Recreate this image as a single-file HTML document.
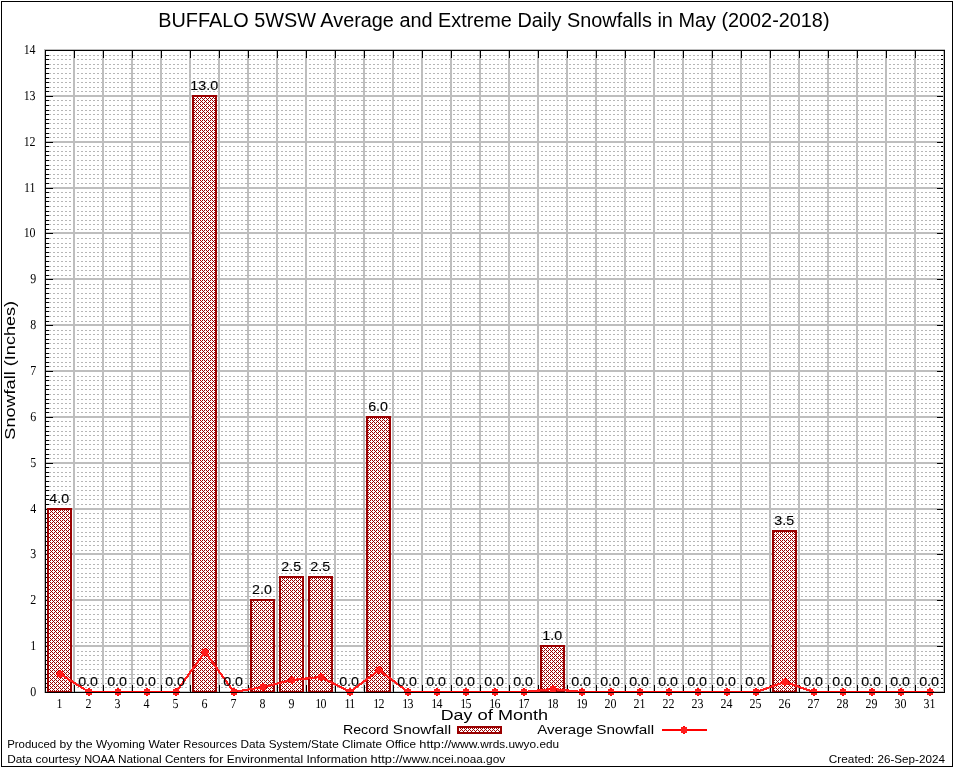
<!DOCTYPE html>
<html lang="en"><head><meta charset="utf-8"><title>BUFFALO 5WSW Average and Extreme Daily Snowfalls in May (2002-2018)</title>
<style>html,body{margin:0;padding:0;background:#fff}svg{display:block;will-change:transform}text{font-family:"Liberation Sans",sans-serif;fill:#000}.se{font-family:"Liberation Serif",serif;text-rendering:geometricPrecision}.cr{shape-rendering:crispEdges}</style></head><body>
<svg width="954" height="768" viewBox="0 0 954 768">
<defs><pattern id="xh" x="0" y="0" width="4" height="4" patternUnits="userSpaceOnUse"><rect width="4" height="4" fill="#fff"/><path fill="#9a0000" shape-rendering="crispEdges" d="M0 0h1v1h-1zM2 0h1v1h-1zM1 1h1v1h-1zM0 2h1v1h-1zM2 2h1v1h-1zM3 3h1v1h-1z"/></pattern></defs>
<rect width="954" height="768" fill="#fff"/>
<g class="cr">
<path fill="none" stroke="#000" stroke-width="1" d="M1.5 1.5H952.5V766.5H1.5Z"/>
<path stroke="#b6b6b6" stroke-width="1" stroke-dasharray="2 2" fill="none" d="M49 687.5H944M49 683.5H944M49 678.5H944M49 674.5H944M49 669.5H944M49 664.5H944M49 660.5H944M49 655.5H944M49 651.5H944M49 642.5H944M49 637.5H944M49 632.5H944M49 628.5H944M49 623.5H944M49 619.5H944M49 614.5H944M49 609.5H944M49 605.5H944M49 596.5H944M49 591.5H944M49 587.5H944M49 582.5H944M49 577.5H944M49 573.5H944M49 568.5H944M49 564.5H944M49 559.5H944M49 550.5H944M49 545.5H944M49 541.5H944M49 536.5H944M49 532.5H944M49 527.5H944M49 522.5H944M49 518.5H944M49 513.5H944M49 504.5H944M49 499.5H944M49 495.5H944M49 490.5H944M49 486.5H944M49 481.5H944M49 476.5H944M49 472.5H944M49 467.5H944M49 458.5H944M49 454.5H944M49 449.5H944M49 444.5H944M49 440.5H944M49 435.5H944M49 431.5H944M49 426.5H944M49 421.5H944M49 412.5H944M49 408.5H944M49 403.5H944M49 399.5H944M49 394.5H944M49 389.5H944M49 385.5H944M49 380.5H944M49 376.5H944M49 366.5H944M49 362.5H944M49 357.5H944M49 353.5H944M49 348.5H944M49 343.5H944M49 339.5H944M49 334.5H944M49 330.5H944M49 321.5H944M49 316.5H944M49 311.5H944M49 307.5H944M49 302.5H944M49 298.5H944M49 293.5H944M49 288.5H944M49 284.5H944M49 275.5H944M49 270.5H944M49 266.5H944M49 261.5H944M49 256.5H944M49 252.5H944M49 247.5H944M49 243.5H944M49 238.5H944M49 229.5H944M49 224.5H944M49 220.5H944M49 215.5H944M49 211.5H944M49 206.5H944M49 201.5H944M49 197.5H944M49 192.5H944M49 183.5H944M49 178.5H944M49 174.5H944M49 169.5H944M49 165.5H944M49 160.5H944M49 155.5H944M49 151.5H944M49 146.5H944M49 137.5H944M49 133.5H944M49 128.5H944M49 123.5H944M49 119.5H944M49 114.5H944M49 110.5H944M49 105.5H944M49 100.5H944M49 91.5H944M49 87.5H944M49 82.5H944M49 78.5H944M49 73.5H944M49 68.5H944M49 64.5H944M49 59.5H944M49 55.5H944"/>
<path stroke="#bebebe" stroke-width="2" fill="none" d="M44 692H945M44 646H945M44 600H945M44 554H945M44 509H945M44 463H945M44 417H945M44 371H945M44 325H945M44 279H945M44 233H945M44 188H945M44 142H945M44 96H945M44 50H945M45 49V693M74 49V693M103 49V693M132 49V693M161 49V693M190 49V693M219 49V693M248 49V693M277 49V693M306 49V693M335 49V693M364 49V693M393 49V693M422 49V693M451 49V693M480 49V693M509 49V693M538 49V693M567 49V693M596 49V693M625 49V693M654 49V693M683 49V693M712 49V693M741 49V693M770 49V693M799 49V693M828 49V693M857 49V693M886 49V693M915 49V693M944 49V693"/>
<path fill="#000" d="M74 50h1v8h-1zM74 685h1v8h-1zM103 50h1v8h-1zM103 685h1v8h-1zM132 50h1v8h-1zM132 685h1v8h-1zM161 50h1v8h-1zM161 685h1v8h-1zM190 50h1v8h-1zM190 685h1v8h-1zM219 50h1v8h-1zM219 685h1v8h-1zM248 50h1v8h-1zM248 685h1v8h-1zM277 50h1v8h-1zM277 685h1v8h-1zM306 50h1v8h-1zM306 685h1v8h-1zM335 50h1v8h-1zM335 685h1v8h-1zM364 50h1v8h-1zM364 685h1v8h-1zM393 50h1v8h-1zM393 685h1v8h-1zM422 50h1v8h-1zM422 685h1v8h-1zM451 50h1v8h-1zM451 685h1v8h-1zM480 50h1v8h-1zM480 685h1v8h-1zM509 50h1v8h-1zM509 685h1v8h-1zM538 50h1v8h-1zM538 685h1v8h-1zM567 50h1v8h-1zM567 685h1v8h-1zM596 50h1v8h-1zM596 685h1v8h-1zM625 50h1v8h-1zM625 685h1v8h-1zM654 50h1v8h-1zM654 685h1v8h-1zM683 50h1v8h-1zM683 685h1v8h-1zM712 50h1v8h-1zM712 685h1v8h-1zM741 50h1v8h-1zM741 685h1v8h-1zM770 50h1v8h-1zM770 685h1v8h-1zM799 50h1v8h-1zM799 685h1v8h-1zM828 50h1v8h-1zM828 685h1v8h-1zM857 50h1v8h-1zM857 685h1v8h-1zM886 50h1v8h-1zM886 685h1v8h-1zM915 50h1v8h-1zM915 685h1v8h-1zM45 687h4v1h-4zM941 687h4v1h-4zM45 683h4v1h-4zM941 683h4v1h-4zM45 678h4v1h-4zM941 678h4v1h-4zM45 674h4v1h-4zM941 674h4v1h-4zM45 669h4v1h-4zM941 669h4v1h-4zM45 664h4v1h-4zM941 664h4v1h-4zM45 660h4v1h-4zM941 660h4v1h-4zM45 655h4v1h-4zM941 655h4v1h-4zM45 651h4v1h-4zM941 651h4v1h-4zM45 646h8v1h-8zM937 646h8v1h-8zM45 642h4v1h-4zM941 642h4v1h-4zM45 637h4v1h-4zM941 637h4v1h-4zM45 632h4v1h-4zM941 632h4v1h-4zM45 628h4v1h-4zM941 628h4v1h-4zM45 623h4v1h-4zM941 623h4v1h-4zM45 619h4v1h-4zM941 619h4v1h-4zM45 614h4v1h-4zM941 614h4v1h-4zM45 609h4v1h-4zM941 609h4v1h-4zM45 605h4v1h-4zM941 605h4v1h-4zM45 600h8v1h-8zM937 600h8v1h-8zM45 596h4v1h-4zM941 596h4v1h-4zM45 591h4v1h-4zM941 591h4v1h-4zM45 587h4v1h-4zM941 587h4v1h-4zM45 582h4v1h-4zM941 582h4v1h-4zM45 577h4v1h-4zM941 577h4v1h-4zM45 573h4v1h-4zM941 573h4v1h-4zM45 568h4v1h-4zM941 568h4v1h-4zM45 564h4v1h-4zM941 564h4v1h-4zM45 559h4v1h-4zM941 559h4v1h-4zM45 554h8v1h-8zM937 554h8v1h-8zM45 550h4v1h-4zM941 550h4v1h-4zM45 545h4v1h-4zM941 545h4v1h-4zM45 541h4v1h-4zM941 541h4v1h-4zM45 536h4v1h-4zM941 536h4v1h-4zM45 532h4v1h-4zM941 532h4v1h-4zM45 527h4v1h-4zM941 527h4v1h-4zM45 522h4v1h-4zM941 522h4v1h-4zM45 518h4v1h-4zM941 518h4v1h-4zM45 513h4v1h-4zM941 513h4v1h-4zM45 509h8v1h-8zM937 509h8v1h-8zM45 504h4v1h-4zM941 504h4v1h-4zM45 499h4v1h-4zM941 499h4v1h-4zM45 495h4v1h-4zM941 495h4v1h-4zM45 490h4v1h-4zM941 490h4v1h-4zM45 486h4v1h-4zM941 486h4v1h-4zM45 481h4v1h-4zM941 481h4v1h-4zM45 476h4v1h-4zM941 476h4v1h-4zM45 472h4v1h-4zM941 472h4v1h-4zM45 467h4v1h-4zM941 467h4v1h-4zM45 463h8v1h-8zM937 463h8v1h-8zM45 458h4v1h-4zM941 458h4v1h-4zM45 454h4v1h-4zM941 454h4v1h-4zM45 449h4v1h-4zM941 449h4v1h-4zM45 444h4v1h-4zM941 444h4v1h-4zM45 440h4v1h-4zM941 440h4v1h-4zM45 435h4v1h-4zM941 435h4v1h-4zM45 431h4v1h-4zM941 431h4v1h-4zM45 426h4v1h-4zM941 426h4v1h-4zM45 421h4v1h-4zM941 421h4v1h-4zM45 417h8v1h-8zM937 417h8v1h-8zM45 412h4v1h-4zM941 412h4v1h-4zM45 408h4v1h-4zM941 408h4v1h-4zM45 403h4v1h-4zM941 403h4v1h-4zM45 399h4v1h-4zM941 399h4v1h-4zM45 394h4v1h-4zM941 394h4v1h-4zM45 389h4v1h-4zM941 389h4v1h-4zM45 385h4v1h-4zM941 385h4v1h-4zM45 380h4v1h-4zM941 380h4v1h-4zM45 376h4v1h-4zM941 376h4v1h-4zM45 371h8v1h-8zM937 371h8v1h-8zM45 366h4v1h-4zM941 366h4v1h-4zM45 362h4v1h-4zM941 362h4v1h-4zM45 357h4v1h-4zM941 357h4v1h-4zM45 353h4v1h-4zM941 353h4v1h-4zM45 348h4v1h-4zM941 348h4v1h-4zM45 343h4v1h-4zM941 343h4v1h-4zM45 339h4v1h-4zM941 339h4v1h-4zM45 334h4v1h-4zM941 334h4v1h-4zM45 330h4v1h-4zM941 330h4v1h-4zM45 325h8v1h-8zM937 325h8v1h-8zM45 321h4v1h-4zM941 321h4v1h-4zM45 316h4v1h-4zM941 316h4v1h-4zM45 311h4v1h-4zM941 311h4v1h-4zM45 307h4v1h-4zM941 307h4v1h-4zM45 302h4v1h-4zM941 302h4v1h-4zM45 298h4v1h-4zM941 298h4v1h-4zM45 293h4v1h-4zM941 293h4v1h-4zM45 288h4v1h-4zM941 288h4v1h-4zM45 284h4v1h-4zM941 284h4v1h-4zM45 279h8v1h-8zM937 279h8v1h-8zM45 275h4v1h-4zM941 275h4v1h-4zM45 270h4v1h-4zM941 270h4v1h-4zM45 266h4v1h-4zM941 266h4v1h-4zM45 261h4v1h-4zM941 261h4v1h-4zM45 256h4v1h-4zM941 256h4v1h-4zM45 252h4v1h-4zM941 252h4v1h-4zM45 247h4v1h-4zM941 247h4v1h-4zM45 243h4v1h-4zM941 243h4v1h-4zM45 238h4v1h-4zM941 238h4v1h-4zM45 233h8v1h-8zM937 233h8v1h-8zM45 229h4v1h-4zM941 229h4v1h-4zM45 224h4v1h-4zM941 224h4v1h-4zM45 220h4v1h-4zM941 220h4v1h-4zM45 215h4v1h-4zM941 215h4v1h-4zM45 211h4v1h-4zM941 211h4v1h-4zM45 206h4v1h-4zM941 206h4v1h-4zM45 201h4v1h-4zM941 201h4v1h-4zM45 197h4v1h-4zM941 197h4v1h-4zM45 192h4v1h-4zM941 192h4v1h-4zM45 188h8v1h-8zM937 188h8v1h-8zM45 183h4v1h-4zM941 183h4v1h-4zM45 178h4v1h-4zM941 178h4v1h-4zM45 174h4v1h-4zM941 174h4v1h-4zM45 169h4v1h-4zM941 169h4v1h-4zM45 165h4v1h-4zM941 165h4v1h-4zM45 160h4v1h-4zM941 160h4v1h-4zM45 155h4v1h-4zM941 155h4v1h-4zM45 151h4v1h-4zM941 151h4v1h-4zM45 146h4v1h-4zM941 146h4v1h-4zM45 142h8v1h-8zM937 142h8v1h-8zM45 137h4v1h-4zM941 137h4v1h-4zM45 133h4v1h-4zM941 133h4v1h-4zM45 128h4v1h-4zM941 128h4v1h-4zM45 123h4v1h-4zM941 123h4v1h-4zM45 119h4v1h-4zM941 119h4v1h-4zM45 114h4v1h-4zM941 114h4v1h-4zM45 110h4v1h-4zM941 110h4v1h-4zM45 105h4v1h-4zM941 105h4v1h-4zM45 100h4v1h-4zM941 100h4v1h-4zM45 96h8v1h-8zM937 96h8v1h-8zM45 91h4v1h-4zM941 91h4v1h-4zM45 87h4v1h-4zM941 87h4v1h-4zM45 82h4v1h-4zM941 82h4v1h-4zM45 78h4v1h-4zM941 78h4v1h-4zM45 73h4v1h-4zM941 73h4v1h-4zM45 68h4v1h-4zM941 68h4v1h-4zM45 64h4v1h-4zM941 64h4v1h-4zM45 59h4v1h-4zM941 59h4v1h-4zM45 55h4v1h-4zM941 55h4v1h-4z"/>
<path fill="#bebebe" d="M943 50h1v643h-1z"/>
<rect x="48" y="509" width="23" height="183" fill="url(#xh)" stroke="#9a0000" stroke-width="2"/>
<rect x="193" y="96" width="23" height="596" fill="url(#xh)" stroke="#9a0000" stroke-width="2"/>
<rect x="251" y="600" width="23" height="92" fill="url(#xh)" stroke="#9a0000" stroke-width="2"/>
<rect x="280" y="577" width="23" height="115" fill="url(#xh)" stroke="#9a0000" stroke-width="2"/>
<rect x="309" y="577" width="23" height="115" fill="url(#xh)" stroke="#9a0000" stroke-width="2"/>
<rect x="367" y="417" width="23" height="275" fill="url(#xh)" stroke="#9a0000" stroke-width="2"/>
<rect x="541" y="646" width="23" height="46" fill="url(#xh)" stroke="#9a0000" stroke-width="2"/>
<rect x="773" y="531" width="23" height="161" fill="url(#xh)" stroke="#9a0000" stroke-width="2"/>
<rect x="458" y="727" width="43" height="6" fill="url(#xh)" stroke="#9a0000" stroke-width="2"/>
<path fill="#ff0000" d="M89 691H118v2H89ZM118 691H147v2H118ZM147 691H176v2H147ZM408 691H437v2H408ZM437 691H466v2H437ZM466 691H495v2H466ZM495 691H524v2H495ZM582 691H611v2H582ZM611 691H640v2H611ZM640 691H669v2H640ZM669 691H698v2H669ZM698 691H727v2H698ZM727 691H756v2H727ZM814 691H843v2H814ZM843 691H872v2H843ZM872 691H901v2H872ZM901 691H930v2H901Z"/>
<path fill="#ff1c1c" d="M60 672.71L89 690.71V693.29L60 675.29ZM174.64 692H177.36L206.36 652H203.64ZM203.64 652H206.36L235.36 692H232.64ZM234 690.88L263 685.88V688.12L234 693.12ZM263 685.87L292 678.87V681.13L263 688.13ZM292 678.89L321 675.89V678.11L292 681.11ZM321 675.76L350 690.76V693.24L321 678.24ZM350 690.62L379 668.62V671.38L350 693.38ZM379 668.62L408 690.62V693.38L379 671.38ZM524 690.89L553 687.89V690.11L524 693.11ZM553 687.89L582 690.89V693.11L553 690.11ZM756 690.84L785 680.84V683.16L756 693.16ZM785 680.84L814 690.84V693.16L785 683.16Z"/>
<path stroke="#ff0000" stroke-width="2" fill="none" d="M662 730H707"/>
<path fill="#ff1c1c" d="M57 671h6v6h-6zM86 689h6v6h-6zM115 689h6v6h-6zM144 689h6v6h-6zM173 689h6v6h-6zM202 649h6v6h-6zM231 689h6v6h-6zM260 684h6v6h-6zM289 677h6v6h-6zM318 674h6v6h-6zM347 689h6v6h-6zM376 667h6v6h-6zM405 689h6v6h-6zM434 689h6v6h-6zM463 689h6v6h-6zM492 689h6v6h-6zM521 689h6v6h-6zM550 686h6v6h-6zM579 689h6v6h-6zM608 689h6v6h-6zM637 689h6v6h-6zM666 689h6v6h-6zM695 689h6v6h-6zM724 689h6v6h-6zM753 689h6v6h-6zM782 679h6v6h-6zM811 689h6v6h-6zM840 689h6v6h-6zM869 689h6v6h-6zM898 689h6v6h-6zM927 689h6v6h-6zM681 727h6v6h-6z"/>
<path fill="#ff0000" d="M59 670h2v1h-2zM59 677h2v1h-2zM56 673h1v2h-1zM63 673h1v2h-1zM88 688h2v1h-2zM88 695h2v1h-2zM85 691h1v2h-1zM92 691h1v2h-1zM117 688h2v1h-2zM117 695h2v1h-2zM114 691h1v2h-1zM121 691h1v2h-1zM146 688h2v1h-2zM146 695h2v1h-2zM143 691h1v2h-1zM150 691h1v2h-1zM175 688h2v1h-2zM175 695h2v1h-2zM172 691h1v2h-1zM179 691h1v2h-1zM204 648h2v1h-2zM204 655h2v1h-2zM201 651h1v2h-1zM208 651h1v2h-1zM233 688h2v1h-2zM233 695h2v1h-2zM230 691h1v2h-1zM237 691h1v2h-1zM262 683h2v1h-2zM262 690h2v1h-2zM259 686h1v2h-1zM266 686h1v2h-1zM291 676h2v1h-2zM291 683h2v1h-2zM288 679h1v2h-1zM295 679h1v2h-1zM320 673h2v1h-2zM320 680h2v1h-2zM317 676h1v2h-1zM324 676h1v2h-1zM349 688h2v1h-2zM349 695h2v1h-2zM346 691h1v2h-1zM353 691h1v2h-1zM378 666h2v1h-2zM378 673h2v1h-2zM375 669h1v2h-1zM382 669h1v2h-1zM407 688h2v1h-2zM407 695h2v1h-2zM404 691h1v2h-1zM411 691h1v2h-1zM436 688h2v1h-2zM436 695h2v1h-2zM433 691h1v2h-1zM440 691h1v2h-1zM465 688h2v1h-2zM465 695h2v1h-2zM462 691h1v2h-1zM469 691h1v2h-1zM494 688h2v1h-2zM494 695h2v1h-2zM491 691h1v2h-1zM498 691h1v2h-1zM523 688h2v1h-2zM523 695h2v1h-2zM520 691h1v2h-1zM527 691h1v2h-1zM552 685h2v1h-2zM552 692h2v1h-2zM549 688h1v2h-1zM556 688h1v2h-1zM581 688h2v1h-2zM581 695h2v1h-2zM578 691h1v2h-1zM585 691h1v2h-1zM610 688h2v1h-2zM610 695h2v1h-2zM607 691h1v2h-1zM614 691h1v2h-1zM639 688h2v1h-2zM639 695h2v1h-2zM636 691h1v2h-1zM643 691h1v2h-1zM668 688h2v1h-2zM668 695h2v1h-2zM665 691h1v2h-1zM672 691h1v2h-1zM697 688h2v1h-2zM697 695h2v1h-2zM694 691h1v2h-1zM701 691h1v2h-1zM726 688h2v1h-2zM726 695h2v1h-2zM723 691h1v2h-1zM730 691h1v2h-1zM755 688h2v1h-2zM755 695h2v1h-2zM752 691h1v2h-1zM759 691h1v2h-1zM784 678h2v1h-2zM784 685h2v1h-2zM781 681h1v2h-1zM788 681h1v2h-1zM813 688h2v1h-2zM813 695h2v1h-2zM810 691h1v2h-1zM817 691h1v2h-1zM842 688h2v1h-2zM842 695h2v1h-2zM839 691h1v2h-1zM846 691h1v2h-1zM871 688h2v1h-2zM871 695h2v1h-2zM868 691h1v2h-1zM875 691h1v2h-1zM900 688h2v1h-2zM900 695h2v1h-2zM897 691h1v2h-1zM904 691h1v2h-1zM929 688h2v1h-2zM929 695h2v1h-2zM926 691h1v2h-1zM933 691h1v2h-1zM683 726h2v1h-2zM683 733h2v1h-2zM680 729h1v2h-1zM687 729h1v2h-1z"/>
</g>
<g><text x="49.29" y="503" font-size="12.6" textLength="19.85" lengthAdjust="spacingAndGlyphs" stroke="#000" stroke-width="0.1">4.0</text>
<text x="78.18" y="686" font-size="12.6" textLength="19.85" lengthAdjust="spacingAndGlyphs" stroke="#000" stroke-width="0.1">0.0</text>
<text x="107.18" y="686" font-size="12.6" textLength="19.85" lengthAdjust="spacingAndGlyphs" stroke="#000" stroke-width="0.1">0.0</text>
<text x="136.18" y="686" font-size="12.6" textLength="19.85" lengthAdjust="spacingAndGlyphs" stroke="#000" stroke-width="0.1">0.0</text>
<text x="165.18" y="686" font-size="12.6" textLength="19.85" lengthAdjust="spacingAndGlyphs" stroke="#000" stroke-width="0.1">0.0</text>
<text x="190.34" y="90" font-size="12.6" textLength="27.79" lengthAdjust="spacingAndGlyphs" stroke="#000" stroke-width="0.1">13.0</text>
<text x="223.18" y="686" font-size="12.6" textLength="19.85" lengthAdjust="spacingAndGlyphs" stroke="#000" stroke-width="0.1">0.0</text>
<text x="252.13" y="594" font-size="12.6" textLength="19.85" lengthAdjust="spacingAndGlyphs" stroke="#000" stroke-width="0.1">2.0</text>
<text x="281.26" y="571" font-size="12.6" textLength="19.85" lengthAdjust="spacingAndGlyphs" stroke="#000" stroke-width="0.1">2.5</text>
<text x="310.26" y="571" font-size="12.6" textLength="19.85" lengthAdjust="spacingAndGlyphs" stroke="#000" stroke-width="0.1">2.5</text>
<text x="339.18" y="686" font-size="12.6" textLength="19.85" lengthAdjust="spacingAndGlyphs" stroke="#000" stroke-width="0.1">0.0</text>
<text x="368.16" y="411" font-size="12.6" textLength="19.85" lengthAdjust="spacingAndGlyphs" stroke="#000" stroke-width="0.1">6.0</text>
<text x="397.18" y="686" font-size="12.6" textLength="19.85" lengthAdjust="spacingAndGlyphs" stroke="#000" stroke-width="0.1">0.0</text>
<text x="426.18" y="686" font-size="12.6" textLength="19.85" lengthAdjust="spacingAndGlyphs" stroke="#000" stroke-width="0.1">0.0</text>
<text x="455.18" y="686" font-size="12.6" textLength="19.85" lengthAdjust="spacingAndGlyphs" stroke="#000" stroke-width="0.1">0.0</text>
<text x="484.18" y="686" font-size="12.6" textLength="19.85" lengthAdjust="spacingAndGlyphs" stroke="#000" stroke-width="0.1">0.0</text>
<text x="513.18" y="686" font-size="12.6" textLength="19.85" lengthAdjust="spacingAndGlyphs" stroke="#000" stroke-width="0.1">0.0</text>
<text x="542.31" y="640" font-size="12.6" textLength="19.85" lengthAdjust="spacingAndGlyphs" stroke="#000" stroke-width="0.1">1.0</text>
<text x="571.18" y="686" font-size="12.6" textLength="19.85" lengthAdjust="spacingAndGlyphs" stroke="#000" stroke-width="0.1">0.0</text>
<text x="600.18" y="686" font-size="12.6" textLength="19.85" lengthAdjust="spacingAndGlyphs" stroke="#000" stroke-width="0.1">0.0</text>
<text x="629.18" y="686" font-size="12.6" textLength="19.85" lengthAdjust="spacingAndGlyphs" stroke="#000" stroke-width="0.1">0.0</text>
<text x="658.18" y="686" font-size="12.6" textLength="19.85" lengthAdjust="spacingAndGlyphs" stroke="#000" stroke-width="0.1">0.0</text>
<text x="687.18" y="686" font-size="12.6" textLength="19.85" lengthAdjust="spacingAndGlyphs" stroke="#000" stroke-width="0.1">0.0</text>
<text x="716.18" y="686" font-size="12.6" textLength="19.85" lengthAdjust="spacingAndGlyphs" stroke="#000" stroke-width="0.1">0.0</text>
<text x="745.18" y="686" font-size="12.6" textLength="19.85" lengthAdjust="spacingAndGlyphs" stroke="#000" stroke-width="0.1">0.0</text>
<text x="774.25" y="525" font-size="12.6" textLength="19.85" lengthAdjust="spacingAndGlyphs" stroke="#000" stroke-width="0.1">3.5</text>
<text x="803.18" y="686" font-size="12.6" textLength="19.85" lengthAdjust="spacingAndGlyphs" stroke="#000" stroke-width="0.1">0.0</text>
<text x="832.18" y="686" font-size="12.6" textLength="19.85" lengthAdjust="spacingAndGlyphs" stroke="#000" stroke-width="0.1">0.0</text>
<text x="861.18" y="686" font-size="12.6" textLength="19.85" lengthAdjust="spacingAndGlyphs" stroke="#000" stroke-width="0.1">0.0</text>
<text x="890.18" y="686" font-size="12.6" textLength="19.85" lengthAdjust="spacingAndGlyphs" stroke="#000" stroke-width="0.1">0.0</text>
<text x="919.18" y="686" font-size="12.6" textLength="19.85" lengthAdjust="spacingAndGlyphs" stroke="#000" stroke-width="0.1">0.0</text></g>
<g class="cr">
<path fill="#000" d="M45 50h900v1h-900zM45 692h900v1h-900zM45 50h1v643h-1zM944 50h1v643h-1z"/>
</g>
<g><text x="0" y="0" font-size="13.6" text-anchor="end" class="se" transform="translate(36.2 696) scale(0.88 1)">0</text>
<text x="0" y="0" font-size="13.6" text-anchor="end" class="se" transform="translate(36.2 650) scale(0.88 1)">1</text>
<text x="0" y="0" font-size="13.6" text-anchor="end" class="se" transform="translate(36.2 604) scale(0.88 1)">2</text>
<text x="0" y="0" font-size="13.6" text-anchor="end" class="se" transform="translate(36.2 558) scale(0.88 1)">3</text>
<text x="0" y="0" font-size="13.6" text-anchor="end" class="se" transform="translate(36.2 513) scale(0.88 1)">4</text>
<text x="0" y="0" font-size="13.6" text-anchor="end" class="se" transform="translate(36.2 467) scale(0.88 1)">5</text>
<text x="0" y="0" font-size="13.6" text-anchor="end" class="se" transform="translate(36.2 421) scale(0.88 1)">6</text>
<text x="0" y="0" font-size="13.6" text-anchor="end" class="se" transform="translate(36.2 375) scale(0.88 1)">7</text>
<text x="0" y="0" font-size="13.6" text-anchor="end" class="se" transform="translate(36.2 329) scale(0.88 1)">8</text>
<text x="0" y="0" font-size="13.6" text-anchor="end" class="se" transform="translate(36.2 283) scale(0.88 1)">9</text>
<text x="0" y="0" font-size="13.6" text-anchor="end" class="se" transform="translate(35.6 237) scale(0.88 1)" dx="0 0">10</text>
<text x="0" y="0" font-size="13.6" text-anchor="end" class="se" transform="translate(35.6 192) scale(0.88 1)" dx="0 0">11</text>
<text x="0" y="0" font-size="13.6" text-anchor="end" class="se" transform="translate(35.6 146) scale(0.88 1)" dx="0 0">12</text>
<text x="0" y="0" font-size="13.6" text-anchor="end" class="se" transform="translate(35.6 100) scale(0.88 1)" dx="0 0">13</text>
<text x="0" y="0" font-size="13.6" text-anchor="end" class="se" transform="translate(35.6 54) scale(0.88 1)" dx="0 0">14</text>
<text x="0" y="0" font-size="13.6" text-anchor="middle" class="se" transform="translate(59.4 708) scale(0.88 1)">1</text>
<text x="0" y="0" font-size="13.6" text-anchor="middle" class="se" transform="translate(88.4 708) scale(0.88 1)">2</text>
<text x="0" y="0" font-size="13.6" text-anchor="middle" class="se" transform="translate(117.4 708) scale(0.88 1)">3</text>
<text x="0" y="0" font-size="13.6" text-anchor="middle" class="se" transform="translate(146.4 708) scale(0.88 1)">4</text>
<text x="0" y="0" font-size="13.6" text-anchor="middle" class="se" transform="translate(175.4 708) scale(0.88 1)">5</text>
<text x="0" y="0" font-size="13.6" text-anchor="middle" class="se" transform="translate(204.4 708) scale(0.88 1)">6</text>
<text x="0" y="0" font-size="13.6" text-anchor="middle" class="se" transform="translate(233.4 708) scale(0.88 1)">7</text>
<text x="0" y="0" font-size="13.6" text-anchor="middle" class="se" transform="translate(262.4 708) scale(0.88 1)">8</text>
<text x="0" y="0" font-size="13.6" text-anchor="middle" class="se" transform="translate(291.4 708) scale(0.88 1)">9</text>
<text x="0" y="0" font-size="13.6" text-anchor="middle" class="se" transform="translate(320.84 708) scale(0.88 1)" dx="0 -1.0">10</text>
<text x="0" y="0" font-size="13.6" text-anchor="middle" class="se" transform="translate(349.84 708) scale(0.88 1)" dx="0 -1.0">11</text>
<text x="0" y="0" font-size="13.6" text-anchor="middle" class="se" transform="translate(378.84 708) scale(0.88 1)" dx="0 -1.0">12</text>
<text x="0" y="0" font-size="13.6" text-anchor="middle" class="se" transform="translate(407.84 708) scale(0.88 1)" dx="0 -1.0">13</text>
<text x="0" y="0" font-size="13.6" text-anchor="middle" class="se" transform="translate(436.84 708) scale(0.88 1)" dx="0 -1.0">14</text>
<text x="0" y="0" font-size="13.6" text-anchor="middle" class="se" transform="translate(465.84 708) scale(0.88 1)" dx="0 -1.0">15</text>
<text x="0" y="0" font-size="13.6" text-anchor="middle" class="se" transform="translate(494.84 708) scale(0.88 1)" dx="0 -1.0">16</text>
<text x="0" y="0" font-size="13.6" text-anchor="middle" class="se" transform="translate(523.84 708) scale(0.88 1)" dx="0 -1.0">17</text>
<text x="0" y="0" font-size="13.6" text-anchor="middle" class="se" transform="translate(552.84 708) scale(0.88 1)" dx="0 -1.0">18</text>
<text x="0" y="0" font-size="13.6" text-anchor="middle" class="se" transform="translate(581.84 708) scale(0.88 1)" dx="0 -1.0">19</text>
<text x="0" y="0" font-size="13.6" text-anchor="middle" class="se" transform="translate(610.4 708) scale(0.88 1)">20</text>
<text x="0" y="0" font-size="13.6" text-anchor="middle" class="se" transform="translate(639.4 708) scale(0.88 1)">21</text>
<text x="0" y="0" font-size="13.6" text-anchor="middle" class="se" transform="translate(668.4 708) scale(0.88 1)">22</text>
<text x="0" y="0" font-size="13.6" text-anchor="middle" class="se" transform="translate(697.4 708) scale(0.88 1)">23</text>
<text x="0" y="0" font-size="13.6" text-anchor="middle" class="se" transform="translate(726.4 708) scale(0.88 1)">24</text>
<text x="0" y="0" font-size="13.6" text-anchor="middle" class="se" transform="translate(755.4 708) scale(0.88 1)">25</text>
<text x="0" y="0" font-size="13.6" text-anchor="middle" class="se" transform="translate(784.4 708) scale(0.88 1)">26</text>
<text x="0" y="0" font-size="13.6" text-anchor="middle" class="se" transform="translate(813.4 708) scale(0.88 1)">27</text>
<text x="0" y="0" font-size="13.6" text-anchor="middle" class="se" transform="translate(842.4 708) scale(0.88 1)">28</text>
<text x="0" y="0" font-size="13.6" text-anchor="middle" class="se" transform="translate(871.4 708) scale(0.88 1)">29</text>
<text x="0" y="0" font-size="13.6" text-anchor="middle" class="se" transform="translate(900.4 708) scale(0.88 1)">30</text>
<text x="0" y="0" font-size="13.6" text-anchor="middle" class="se" transform="translate(929.4 708) scale(0.88 1)">31</text>
<text x="158.3" y="26.5" font-size="20" textLength="671.2" lengthAdjust="spacingAndGlyphs">BUFFALO 5WSW Average and Extreme Daily Snowfalls in May (2002-2018)</text>
<text y="720" font-size="15.4"><tspan x="440.73" textLength="31.62" lengthAdjust="spacingAndGlyphs">Day</tspan> <tspan x="477.44" textLength="15.44" lengthAdjust="spacingAndGlyphs">of</tspan> <tspan x="497.97" textLength="50.19" lengthAdjust="spacingAndGlyphs">Month</tspan></text>
<text y="0" font-size="15.4" transform="translate(15.1 438.6) rotate(-90)"><tspan x="-1.07" textLength="68.34" lengthAdjust="spacingAndGlyphs">Snowfall</tspan> <tspan x="72.43" textLength="65.27" lengthAdjust="spacingAndGlyphs">(Inches)</tspan></text>
<text y="733.7" font-size="12.6"><tspan x="342.92" textLength="45.86" lengthAdjust="spacingAndGlyphs">Record</tspan> <tspan x="392.89" textLength="58.2" lengthAdjust="spacingAndGlyphs">Snowfall</tspan></text>
<text y="733.7" font-size="12.6"><tspan x="537.2" textLength="55.72" lengthAdjust="spacingAndGlyphs">Average</tspan> <tspan x="596.2" textLength="57.89" lengthAdjust="spacingAndGlyphs">Snowfall</tspan></text>
<text y="748" font-size="11.2"><tspan x="7.18" textLength="48.95" lengthAdjust="spacingAndGlyphs">Produced</tspan> <tspan x="59.44" textLength="12.79" lengthAdjust="spacingAndGlyphs">by</tspan> <tspan x="75.55" textLength="17.11" lengthAdjust="spacingAndGlyphs">the</tspan> <tspan x="95.97" textLength="49.14" lengthAdjust="spacingAndGlyphs">Wyoming</tspan> <tspan x="148.43" textLength="31.49" lengthAdjust="spacingAndGlyphs">Water</tspan> <tspan x="183.24" textLength="53.95" lengthAdjust="spacingAndGlyphs">Resources</tspan> <tspan x="240.5" textLength="24.9" lengthAdjust="spacingAndGlyphs">Data</tspan> <tspan x="268.71" textLength="42.4" lengthAdjust="spacingAndGlyphs">System/</tspan><tspan x="311.11" textLength="27.6" lengthAdjust="spacingAndGlyphs">State</tspan> <tspan x="342.03" textLength="40.13" lengthAdjust="spacingAndGlyphs">Climate</tspan> <tspan x="385.47" textLength="30.59" lengthAdjust="spacingAndGlyphs">Office</tspan> <tspan x="419.38" textLength="31.94" lengthAdjust="spacingAndGlyphs">http://</tspan><tspan x="451.32" textLength="28.9" lengthAdjust="spacingAndGlyphs">www.</tspan><tspan x="480.22" textLength="28.18" lengthAdjust="spacingAndGlyphs">wrds.</tspan><tspan x="508.4" textLength="31" lengthAdjust="spacingAndGlyphs">uwyo.</tspan><tspan x="539.4" textLength="19.64" lengthAdjust="spacingAndGlyphs">edu</tspan></text>
<text y="763" font-size="11.2"><tspan x="7.17" textLength="25.01" lengthAdjust="spacingAndGlyphs">Data</tspan> <tspan x="35.52" textLength="45.33" lengthAdjust="spacingAndGlyphs">courtesy</tspan> <tspan x="84.17" textLength="30.42" lengthAdjust="spacingAndGlyphs">NOAA</tspan> <tspan x="117.92" textLength="43.65" lengthAdjust="spacingAndGlyphs">National</tspan> <tspan x="164.9" textLength="40.72" lengthAdjust="spacingAndGlyphs">Centers</tspan> <tspan x="208.95" textLength="14.4" lengthAdjust="spacingAndGlyphs">for</tspan> <tspan x="226.68" textLength="76.45" lengthAdjust="spacingAndGlyphs">Environmental</tspan> <tspan x="306.47" textLength="60.83" lengthAdjust="spacingAndGlyphs">Information</tspan> <tspan x="370.62" textLength="32.09" lengthAdjust="spacingAndGlyphs">http://</tspan><tspan x="402.72" textLength="29.03" lengthAdjust="spacingAndGlyphs">www.</tspan><tspan x="431.75" textLength="25.09" lengthAdjust="spacingAndGlyphs">ncei.</tspan><tspan x="456.83" textLength="29.22" lengthAdjust="spacingAndGlyphs">noaa.</tspan><tspan x="486.05" textLength="19.26" lengthAdjust="spacingAndGlyphs">gov</tspan></text>
<text y="763" font-size="11.2"><tspan x="828.81" textLength="45.31" lengthAdjust="spacingAndGlyphs">Created:</tspan> <tspan x="877.46" textLength="67.43" lengthAdjust="spacingAndGlyphs">26-Sep-2024</tspan></text></g>
</svg></body></html>
